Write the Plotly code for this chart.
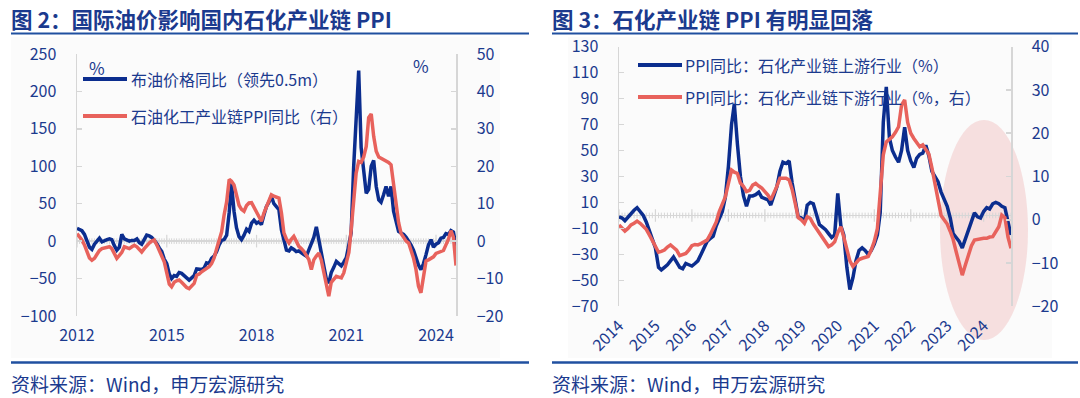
import pandas as pd
import plotly.graph_objects as go

# ---------------- data ----------------
# Figure 2: monthly, 2012-01 .. 2024-09
brent_yoy = [
    17, 15, 14, 9, 1, -8, -11, -4, 0, 4, -1, 1,
    2, 3, 2, -6, -12, -8, 9, 3, 1, 0, 1, 1,
    3, -2, -4, 2, 8, 7, 5, 1, -3, -9, -14, -24,
    -30, -44, -50, -46, -47, -42, -43, -46, -49, -52, -49, -46,
    -37, -38, -38, -36, -29, -30, -23, -20, -14, -5, 1, 2,
    8, 38, 77, 40, 18, 6, 2, 8, 16, 13, 24, 28,
    24, 26, 22, 35, 46, 52, 60, 50, 46, 42, 15, 0,
    -12, -13, -9, -11, -14, -13, -16, -18, -20, -12, -4, 5,
    19, 0, -12, -35, -50, -56, -42, -35, -27, -30, -33, -28,
    -22, -5, 11, 100, 165, 228, 125, 90, 64, 69, 100, 108,
    73, 55, 52, 62, 73, 60, 73, 40, 25, 13, 11, 9,
    5, 0, -5, -12, -22, -32, -38, -30, -18, -5, 2, -8,
    -4, -2, 4, 5, 10, 9, 14, 12, -7,
]
petchem_ppi = [
    2.0, 1.2, 0.3, -1.0, -2.9, -4.5, -5.1, -4.6, -3.5, -2.5, -2.0, -1.8,
    -1.5, -1.5, -2.0, -3.2, -4.6, -3.8, -3.0, -1.5, -1.8, -2.0, -1.5, -1.1,
    -1.5, -2.3, -2.9, -2.0, -1.1, -0.5, 0.0, 0.3, -1.0, -2.4, -4.0, -5.5,
    -8.5, -11.5, -12.2, -11.0, -10.6, -10.4, -11.0, -11.8, -12.4, -12.7, -12.0, -11.3,
    -9.1, -8.8, -8.2, -7.8, -7.3, -6.8, -6.0, -4.5, -2.0, 0.5, 2.5, 7.0,
    10.5, 16.5, 16.0, 15.0, 12.5, 9.6, 8.5, 8.0, 9.5, 10.2, 10.3, 9.0,
    7.8, 6.0, 5.3, 7.5, 9.3, 11.0, 12.4, 12.0, 11.8, 11.5, 7.5, 2.2,
    0.5, -0.5, 0.5, 1.3, 0.0, -1.4, -2.0, -2.7, -3.8, -4.9, -7.6, -5.0,
    -4.0, -3.2, -5.0, -8.5, -12.0, -14.7, -11.0, -10.0, -9.4, -9.6, -9.8, -8.5,
    -6.0, -3.0, 3.0, 12.0, 18.2, 21.3, 21.0, 22.5, 25.3, 33.0, 34.0, 28.0,
    24.0, 22.5, 22.2, 21.8, 21.5, 21.0, 20.4, 15.0, 9.3, 5.0, 2.0, 1.0,
    0.0, -0.5, -2.5, -4.5, -7.5, -12.0, -13.8, -10.0, -5.3, -5.0, -4.5, -4.2,
    -3.3, -3.0, -2.8, -2.5, -1.0, 0.5, 2.8, 1.0, -6.5,
]
left_ticks = ["2012", "2015", "2018", "2021", "2024"]

# Figure 3: monthly, 2014-01 .. 2024-10
upstream_ppi = [
    -1, -2, -4, -1, 2, 4, 6, 3, 0, -5, -12, -18,
    -25, -40, -42, -40, -38, -35, -32, -36, -40, -41, -37, -38,
    -39, -37, -35, -30, -25, -20, -18, -16, -8, -3, 3, 14,
    38, 70, 86, 55, 30, 15, 7, 15, 15, 16, 18, 14,
    13, 12, 8, 15, 22, 34, 41, 40, 42, 25, 10, -1,
    -2, -5, 8, 10, 9, 0, -7, -9, -11, -14, -17, -15,
    17, -8, -15, -40, -57, -48, -35, -27, -25, -27, -30, -27,
    -22, -15, 2, 72, 99, 60, 50, 45, 41, 50, 68, 50,
    42, 37, 44, 47, 48, 54, 46, 34, 30, 26, 18, 13,
    7, -2, -14, -17, -20, -25, -18, -12, -5, 2, -1, -2,
    3, 6, 5, 9, 10, 9, 7, 6, -5, -15,
]
downstream_ppi = [
    -1.2, -2.0, -2.6, -2.0, -1.2, -0.8, -0.3, -0.8, -1.5, -2.2, -3.5, -4.7,
    -6.0, -7.5, -7.3, -7.0, -6.3, -5.8, -6.4, -7.0, -8.3, -8.0, -7.8, -7.0,
    -6.0, -5.7, -5.8, -5.5, -5.0, -4.7, -3.5, -2.0, -0.5, 1.9, 3.5, 5.3,
    8.4, 11.5, 11.0, 10.7, 8.5, 7.7, 6.5, 6.8, 8.0, 8.4, 7.8, 7.3,
    6.5, 5.7, 4.6, 6.0, 7.7, 9.6, 9.6, 9.6, 9.2, 7.0, 3.8, 0.5,
    0.0, -0.8, 0.7, 0.3, -1.0, -2.0, -3.0, -3.9, -5.0, -6.2, -5.8, -5.1,
    -3.0, -1.6, -4.0, -6.5, -9.5, -10.8, -10.0, -9.2, -8.9, -8.7, -8.5, -7.0,
    -5.0, -2.0, 5.5, 15.0, 18.0, 18.6, 19.2, 20.2, 21.5, 26.5, 27.7, 22.5,
    20.0, 18.8, 18.0, 16.9, 17.3, 16.3, 15.2, 12.0, 8.0, 5.0, 1.0, 0.0,
    -1.0, -2.7, -4.5, -7.4, -10.5, -12.8, -10.5, -8.1, -6.0, -4.7, -4.5, -4.3,
    -4.3, -4.3, -4.0, -3.9, -2.8, -1.6, 1.1, 0.5, -4.0, -6.6,
]
right_ticks = [str(y) for y in range(2014, 2025)]

# ---------------- text ----------------
title_left = "图 2：国际油价影响国内石化产业链 PPI"
title_right = "图 3：石化产业链 PPI 有明显回落"
legend_left = ["布油价格同比（领先0.5m）", "石油化工产业链PPI同比（右）"]
legend_right = ["PPI同比：石化产业链上游行业（%）", "PPI同比：石化产业链下游行业（%，右）"]
source_text = "资料来源：Wind，申万宏源研究"

# ---------------- style ----------------
W, H = 1080, 398
FONT = "Noto Sans CJK SC, Noto Sans, sans-serif"
NAVY = "#1B3A8E"
BLUE = "#0B2D8E"
RED = "#E8625C"
AXG = "#D6D6D6"
RULE = "#2050A0"


def px(x):
    return x / W


def py(y):
    return 1 - y / H


d1 = pd.date_range("2012-01-01", periods=len(brent_yoy), freq="MS")
d2 = pd.date_range("2014-01-01", periods=len(upstream_ppi), freq="MS")
tv1 = pd.to_datetime([f"{t}-01-01" for t in left_ticks])
tv2 = pd.to_datetime([f"{t}-01-01" for t in right_ticks])

fig = go.Figure()


def hatch(dates, majors, xa, ya):
    fig.add_trace(go.Scatter(
        x=dates, y=[0] * len(dates), xaxis=xa, yaxis=ya, mode="markers",
        marker=dict(symbol="line-ns", size=4, line=dict(width=1, color=AXG)),
        hoverinfo="skip", showlegend=False))
    fig.add_trace(go.Scatter(
        x=majors, y=[0] * len(majors), xaxis=xa, yaxis=ya, mode="markers",
        marker=dict(symbol="line-ns", size=9, line=dict(width=1.2, color=AXG)),
        hoverinfo="skip", showlegend=False))


hatch(d1, tv1, "x", "y")
hatch(d2, tv2, "x2", "y3")

fig.add_trace(go.Scatter(x=d1, y=brent_yoy, xaxis="x", yaxis="y", mode="lines",
                         line=dict(color=BLUE, width=3.5), name=legend_left[0], showlegend=False))
fig.add_trace(go.Scatter(x=d1, y=petchem_ppi, xaxis="x", yaxis="y2", mode="lines",
                         line=dict(color=RED, width=3.5), name=legend_left[1], showlegend=False))
fig.add_trace(go.Scatter(x=d2, y=upstream_ppi, xaxis="x2", yaxis="y3", mode="lines",
                         line=dict(color=BLUE, width=3.5), name=legend_right[0], showlegend=False))
fig.add_trace(go.Scatter(x=d2, y=downstream_ppi, xaxis="x2", yaxis="y4", mode="lines",
                         line=dict(color=RED, width=3.5), name=legend_right[1], showlegend=False))

tickfont = dict(family=FONT, size=16, color=NAVY)
yax = dict(showgrid=False, showline=True, linecolor=AXG, linewidth=1.5, ticks="inside",
           ticklen=5, tickcolor=AXG, tickwidth=1.5, tickfont=tickfont, ticklabelstandoff=16,
           automargin=False)

fig.update_layout(
    template="none",
    width=W, height=H, autosize=False,
    margin=dict(l=0, r=0, t=0, b=0, pad=0, autoexpand=False),
    paper_bgcolor="white", plot_bgcolor="rgba(0,0,0,0)",
    font=dict(family=FONT, color=NAVY),
    showlegend=False,
    xaxis=dict(domain=[px(77), px(456)], anchor="y", type="date",
               range=[d1[0], d1[-1]], tickmode="array", tickvals=tv1, ticktext=left_ticks,
               showgrid=False, zeroline=False, showline=False, ticks="",
               tickfont=tickfont, ticklabelstandoff=8, automargin=False),
    yaxis=dict(domain=[py(316), py(54)], anchor="x", range=[-100, 250], dtick=50, tick0=0,
               zeroline=True, zerolinecolor=AXG, zerolinewidth=1.5, **yax),
    yaxis2=dict(overlaying="y", anchor="x", side="right", range=[-20, 50], dtick=10, tick0=0,
                zeroline=False, **yax),
    xaxis2=dict(domain=[px(619), px(1011)], anchor="y3", type="date",
                range=[d2[0], d2[-1]], tickmode="array", tickvals=tv2, ticktext=right_ticks,
                tickangle=-45, showgrid=False, zeroline=False, showline=False, ticks="",
                tickfont=tickfont, ticklabelstandoff=6, automargin=False),
    yaxis3=dict(domain=[py(306.3), py(46.7)], anchor="x2", range=[-70, 130], dtick=20, tick0=-70,
                zeroline=True, zerolinecolor=AXG, zerolinewidth=1.5, **yax),
    yaxis4=dict(overlaying="y3", anchor="x2", side="right", range=[-20, 40], dtick=10, tick0=0,
                zeroline=False, **yax),
)

shapes = []
# faint panels
shapes.append(dict(type="rect", xref="paper", yref="paper", x0=px(11), x1=px(500),
                   y0=py(358), y1=py(37), fillcolor="#FBFBFB", line=dict(width=0), layer="below"))
shapes.append(dict(type="rect", xref="paper", yref="paper", x0=px(568), x1=px(1052),
                   y0=py(358), y1=py(37), fillcolor="#FBFBFB", line=dict(width=0), layer="below"))
# highlight ellipse
shapes.append(dict(type="circle", xref="paper", yref="paper", x0=px(940), x1=px(1028),
                   y0=py(340), y1=py(120), fillcolor="rgba(232,150,150,0.28)",
                   line=dict(width=0), layer="below"))
# rules
for x0, x1 in [(11, 529), (552, 1078)]:
    shapes.append(dict(type="line", xref="paper", yref="paper", x0=px(x0), x1=px(x1),
                       y0=py(33.5), y1=py(33.5), line=dict(color=RULE, width=2)))
    shapes.append(dict(type="line", xref="paper", yref="paper", x0=px(x0), x1=px(x1),
                       y0=py(362.5), y1=py(362.5), line=dict(color=RULE, width=2.5)))
# legend samples
for (x0, x1, y, c) in [(83, 127, 79, BLUE), (83, 127, 116, RED),
                       (638, 682, 65, BLUE), (638, 682, 97, RED)]:
    shapes.append(dict(type="line", xref="paper", yref="paper", x0=px(x0), x1=px(x1),
                       y0=py(y), y1=py(y), line=dict(color=c, width=4)))
fig.update_layout(shapes=shapes)

ann = []


def text(x, y, s, size, anchor="left", bold=False):
    ann.append(dict(xref="paper", yref="paper", x=px(x), y=py(y), text=f"<b>{s}</b>" if bold else s,
                    showarrow=False, xanchor=anchor, yanchor="middle", borderpad=0,
                    font=dict(family=FONT, size=size, color=NAVY)))


text(10, 18.5, title_left, 21.5, bold=True)
text(551, 18.5, title_right, 21.5, bold=True)
text(10, 383, source_text, 19)
text(551, 383, source_text, 19)
text(130, 79, legend_left[0], 16)
text(130, 116, legend_left[1], 16)
text(684, 65, legend_right[0], 16)
text(684, 97, legend_right[1], 16)
text(97, 67, "%", 17, anchor="center")
text(421, 65, "%", 17, anchor="center")
fig.update_layout(annotations=ann)

fig.write_html(
    "out.html",
    config={"displayModeBar": False, "staticPlot": True},
    post_script="document.body.style.margin='0';document.body.style.overflow='hidden';",
)
